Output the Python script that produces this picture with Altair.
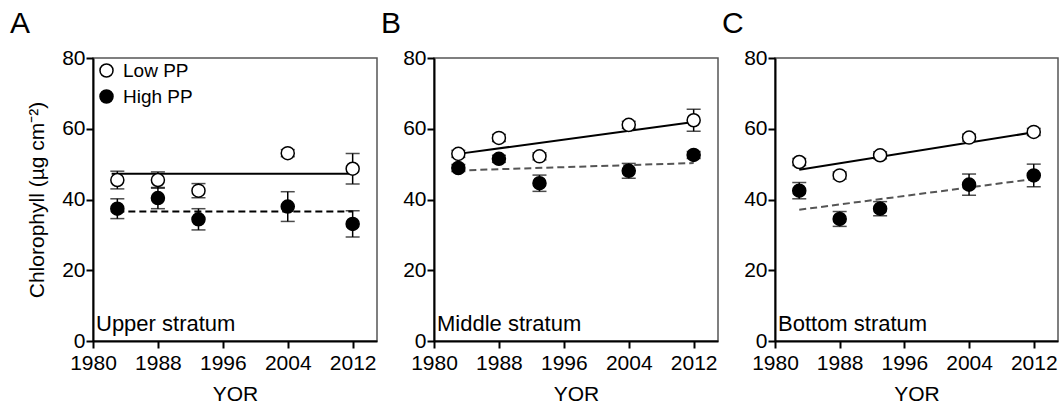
import altair as alt
import pandas as pd

years = [1983, 1988, 1993, 2004, 2012]
groups = ["Low PP", "High PP"]

# Panel A - Upper stratum
a_low = [45.5, 45.5, 42.5, 53.1, 48.7]
a_low_se = [2.5, 2.3, 2.0, 1.0, 4.3]
a_high = [37.4, 40.4, 34.4, 38.0, 33.1]
a_high_se = [2.8, 3.0, 3.0, 4.2, 3.7]
# Panel B - Middle stratum
b_low = [52.9, 57.4, 52.2, 61.1, 62.4]
b_low_se = [1.0, 1.0, 1.0, 1.0, 3.1]
b_high = [48.9, 51.5, 44.6, 48.1, 52.6]
b_high_se = [1.0, 1.0, 2.3, 2.1, 1.0]
# Panel C - Bottom stratum
c_low = [50.6, 46.8, 52.5, 57.5, 59.1]
c_low_se = [1.0, 1.0, 1.0, 1.0, 1.0]
c_high = [42.5, 34.5, 37.4, 44.2, 46.8]
c_high_se = [2.3, 2.1, 2.0, 3.0, 3.2]

# regression lines: [start year, end year], [start value, end value]
a_fit_low_x = [1982.3, 2012]; a_fit_low_y = [47.3, 47.3]
a_fit_high_x = [1983, 2012]; a_fit_high_y = [36.6, 36.6]
b_fit_low_x = [1983, 2012]; b_fit_low_y = [52.9, 61.9]
b_fit_high_x = [1983, 2012]; b_fit_high_y = [48.2, 50.3]
c_fit_low_x = [1983, 2012]; c_fit_low_y = [48.4, 59.0]
c_fit_high_x = [1983, 2012]; c_fit_high_y = [37.1, 45.8]

x_ticks = [1980, 1988, 1996, 2004, 2012]
y_ticks = [0, 20, 40, 60, 80]

FONT = "Liberation Sans"
H = 283


def panel(letter, label, low, low_se, high, high_se, flx, fly, fhx, fhy,
          dash_color, width, first):
    rows = []
    for g, vals, ses in (("Low PP", low, low_se), ("High PP", high, high_se)):
        for yr, v, s in zip(years, vals, ses):
            rows.append({"year": yr, "value": v, "lo": v - s, "hi": v + s, "group": g})
    df = pd.DataFrame(rows)
    fit_low = pd.DataFrame({"year": flx, "value": fly})
    fit_high = pd.DataFrame({"year": fhx, "value": fhy})

    xsc = alt.Scale(domain=[1980, 2015], nice=False, zero=False)
    ysc = alt.Scale(domain=[0, 80], nice=False)
    xax = alt.Axis(values=x_ticks, format="d", title="YOR")
    yax = alt.Axis(values=y_ticks,
                   title="Chlorophyll (µg cm⁻²)" if first else None)

    base = alt.Chart(df)
    err = base.mark_rule(color="black", strokeWidth=1.5).encode(
        x=alt.X("year:Q", scale=xsc, axis=xax),
        y=alt.Y("lo:Q", scale=ysc, axis=yax),
        y2="hi:Q",
    )
    cap_lo = base.mark_tick(color="black", thickness=1.5, size=14, orient="horizontal").encode(
        x=alt.X("year:Q", scale=xsc), y=alt.Y("lo:Q", scale=ysc))
    cap_hi = base.mark_tick(color="black", thickness=1.5, size=14, orient="horizontal").encode(
        x=alt.X("year:Q", scale=xsc), y=alt.Y("hi:Q", scale=ysc))
    line_low = alt.Chart(fit_low).mark_line(color="black", strokeWidth=2).encode(
        x=alt.X("year:Q", scale=xsc), y=alt.Y("value:Q", scale=ysc))
    line_high = alt.Chart(fit_high).mark_line(color=dash_color, strokeWidth=2,
                                               strokeDash=[7, 4]).encode(
        x=alt.X("year:Q", scale=xsc), y=alt.Y("value:Q", scale=ysc))
    if first:
        leg = alt.Legend(title=None, orient="none", legendX=4, legendY=3,
                         symbolType="circle", symbolSize=170,
                         symbolStrokeColor="black", symbolStrokeWidth=1.5,
                         labelFontSize=19, labelFont=FONT, labelOffset=7,
                         rowPadding=5, padding=0)
    else:
        leg = None
    pts = base.mark_point(filled=True, size=170, stroke="black", strokeWidth=1.5,
                          opacity=1).encode(
        x=alt.X("year:Q", scale=xsc),
        y=alt.Y("value:Q", scale=ysc),
        fill=alt.Fill("group:N", scale=alt.Scale(domain=groups, range=["white", "black"]),
                      legend=leg),
    )
    txt = alt.Chart(alt.Data(values=[{"t": label}])).mark_text(
        align="left", baseline="alphabetic", fontSize=22, font=FONT, color="black"
    ).encode(x=alt.value(3), y=alt.value(H - 10), text="t:N")
    let = alt.Chart(alt.Data(values=[{"t": letter}])).mark_text(
        align="left", baseline="alphabetic", fontSize=30, font=FONT, color="black"
    ).encode(x=alt.value(-83 if first else -53), y=alt.value(-25), text="t:N")
    return alt.layer(err, cap_lo, cap_hi, line_low, line_high, pts, txt, let).properties(
        width=width, height=H)


pa = panel("A", "Upper stratum", a_low, a_low_se, a_high, a_high_se,
           a_fit_low_x, a_fit_low_y, a_fit_high_x, a_fit_high_y, "black", 284, True)
pb = panel("B", "Middle stratum", b_low, b_low_se, b_high, b_high_se,
           b_fit_low_x, b_fit_low_y, b_fit_high_x, b_fit_high_y, "#555555", 284, False)
pc = panel("C", "Bottom stratum", c_low, c_low_se, c_high, c_high_se,
           c_fit_low_x, c_fit_low_y, c_fit_high_x, c_fit_high_y, "#555555", 283, False)

chart = alt.hconcat(pa, pb, pc, spacing=57, bounds="flush").resolve_scale(
    fill="independent").resolve_legend(fill="independent").properties(
    padding={"left": 9, "top": 8, "right": 2, "bottom": 2}
).configure_view(stroke="#555555", strokeWidth=1.5).configure_axis(
    domainColor="black", domainWidth=2, tickColor="black", tickWidth=2, tickSize=7,
    labelFontSize=21, labelFont=FONT, labelColor="black", titleFontSize=21,
    titleFont=FONT, titleFontWeight="normal", titleColor="black", grid=False,
    labelPadding=1, labelFlush=False
).configure_axisX(titlePadding=10, labelPadding=4).configure_axisY(titlePadding=14)

chart.save("out.html", embed_options={"renderer": "svg", "actions": False})
